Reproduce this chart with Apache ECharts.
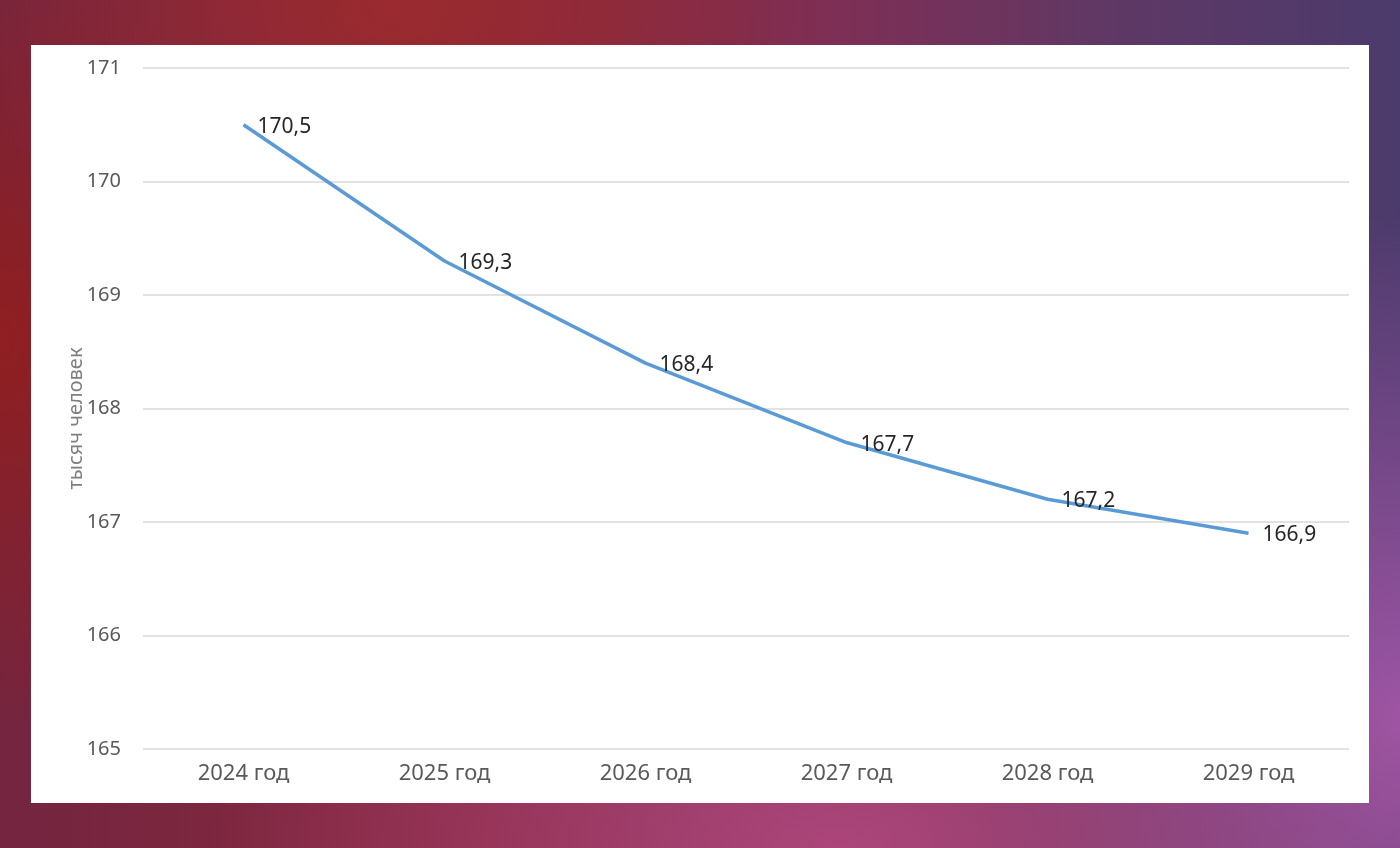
<!DOCTYPE html>
<html>
<head>
<meta charset="utf-8">
<script src="https://cdn.jsdelivr.net/npm/echarts@6/dist/echarts.min.js"></script>
<style>
html,body{margin:0;padding:0;width:1400px;height:848px;overflow:hidden;}
body{
background:
 radial-gradient(ellipse 30% 45% at 28% 0%, rgba(155,42,45,0.95), rgba(155,42,45,0) 100%),
 radial-gradient(ellipse 20% 45% at 0% 40%, rgba(145,30,30,0.95), rgba(145,30,30,0) 100%),
 radial-gradient(ellipse 45% 40% at 60% 100%, rgba(172,70,122,1), rgba(172,70,122,0) 100%),
 radial-gradient(ellipse 30% 60% at 100% 85%, rgba(158,85,165,1), rgba(158,85,165,0) 100%),
 linear-gradient(90deg, #74253f 0%, #88283f 35%, #7e2f55 60%, #5e3865 80%, #4b3b6c 100%);
}
#panel{position:absolute;left:31px;top:45px;width:1338px;height:758px;background:#fff;}
#chart{position:absolute;left:0;top:0;width:1400px;height:848px;}
</style>
</head>
<body>
<div id="panel"></div>
<div id="chart"></div>
<script>
const categories = ['2024 год','2025 год','2026 год','2027 год','2028 год','2029 год'];
const values = [170.5, 169.3, 168.4, 167.7, 167.2, 166.9];
const yMin = 165, yMax = 171, yStep = 1;
const yName = 'тысяч человек';

const chart = echarts.init(document.getElementById('chart'));
chart.setOption({
  backgroundColor: 'transparent',
  animation: false,
  grid: {left: 143, right: 51, top: 68, bottom: 99},
  xAxis: {
    type: 'category',
    data: categories,
    boundaryGap: true,
    axisLine: {show: false},
    axisTick: {show: false},
    axisLabel: {color: '#595959', fontSize: 22, fontFamily: 'Noto Sans', margin: 14}
  },
  yAxis: {
    type: 'value',
    min: yMin, max: yMax, interval: yStep,
    name: yName,
    nameLocation: 'middle',
    nameGap: 57,
    nameMoveOverlap: false,
    nameTextStyle: {color: '#7f7f7f', fontSize: 20, fontFamily: 'Noto Sans', padding: [0, 20, 0, 0]},
    axisLine: {show: false},
    axisTick: {show: false},
    axisLabel: {color: '#595959', fontSize: 20, fontFamily: 'Noto Sans', margin: 22},
    splitLine: {lineStyle: {color: '#d9d9d9', width: 1.5}}
  },
  series: [{
    type: 'line',
    data: values,
    showSymbol: true,
    symbol: 'circle',
    symbolSize: 0,
    itemStyle: {color: '#5b9bd5'},
    lineStyle: {color: '#5b9bd5', width: 3.5},
    label: {
      show: true,
      position: 'right',
      distance: 14,
      offset: [0, 2],
      color: '#262626',
      fontSize: 21,
      fontFamily: 'Noto Sans',
      formatter: p => String(p.value).replace('.', ',')
    }
  }]
});
</script>
</body>
</html>
